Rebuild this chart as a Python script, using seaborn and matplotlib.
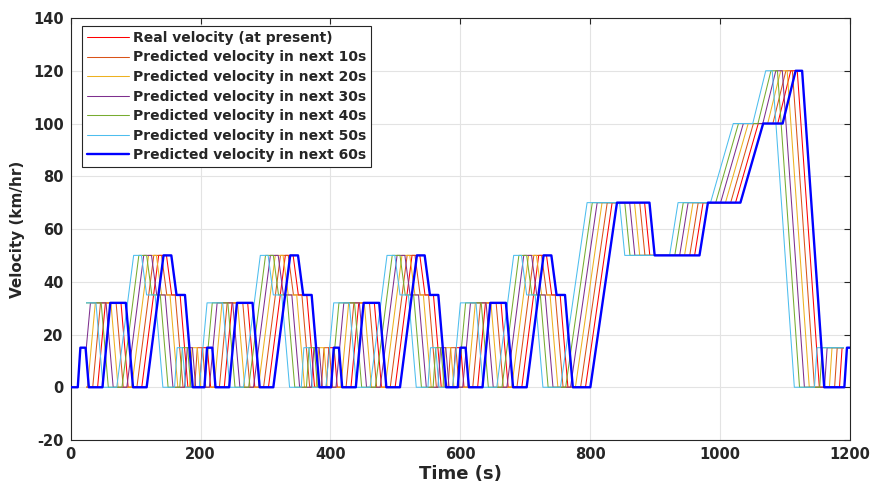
import numpy as np
import pandas as pd
import matplotlib
matplotlib.use("Agg")
import matplotlib.pyplot as plt
from matplotlib.patches import Rectangle
import seaborn as sns

# ---- data ----
# breakpoints of the (thick blue) reference velocity profile
cycle_time = [0, 11, 15, 23, 28, 49, 61, 85, 96, 117, 143, 155, 163, 176, 188,
              195, 206, 210, 218, 223, 244, 256, 280, 291, 312, 338, 350, 358, 371, 383,
              390, 401, 405, 413, 418, 439, 451, 475, 486, 507, 533, 545, 553, 566, 578,
              585, 596, 600, 608, 613, 634, 646, 670, 681, 702, 728, 740, 748, 761, 773,
              780, 800, 841, 891, 899, 968, 981, 1031, 1066, 1096, 1116, 1126, 1160,
              1180, 1191, 1195, 1260]
cycle_speed = [0, 0, 15, 15, 0, 0, 32, 32, 0, 0, 50, 50, 35, 35, 0,
               0, 0, 15, 15, 0, 0, 32, 32, 0, 0, 50, 50, 35, 35, 0,
               0, 0, 15, 15, 0, 0, 32, 32, 0, 0, 50, 50, 35, 35, 0,
               0, 0, 15, 15, 0, 0, 32, 32, 0, 0, 50, 50, 35, 35, 0,
               0, 0, 70, 70, 50, 50, 70, 70, 100, 100, 120, 120, 0,
               0, 0, 15, 15]

series_labels = ["Real velocity (at present)",
                 "Predicted velocity in next 10s",
                 "Predicted velocity in next 20s",
                 "Predicted velocity in next 30s",
                 "Predicted velocity in next 40s",
                 "Predicted velocity in next 50s",
                 "Predicted velocity in next 60s"]
# how far (s) each curve leads the blue profile
series_lead = [7.5, 15, 23, 30.5, 38, 46, 0]
series_colors = ["#FF0000", "#D95319", "#EDB120", "#7E2F8E", "#77AC30", "#4DBEEE", "#0000FF"]
visible_span = (24, 1190)   # thin curves are shown only in this time window

x_ticks = [0, 200, 400, 600, 800, 1000, 1200]
y_ticks = [-20, 0, 20, 40, 60, 80, 100, 120, 140]

# ---- build long-form table ----
rows = []
for lab, lead in zip(series_labels, series_lead):
    for t, v in zip(cycle_time, cycle_speed):
        rows.append((lab, t - lead, v))
df = pd.DataFrame(rows, columns=["series", "time", "speed"])

# ---- figure ----
sns.set_style("white")
plt.rcParams["font.family"] = ["DejaVu Sans"]
plt.rcParams["font.weight"] = "bold"
plt.rcParams["axes.unicode_minus"] = False

fig = plt.figure(figsize=(8.72, 4.87), dpi=100)
ax = fig.add_axes([0.081, 0.0965, 0.894, 0.8665])

for i, (lab, col) in enumerate(zip(series_labels, series_colors)):
    sub = df[df["series"] == lab]
    is_main = (i == len(series_labels) - 1)
    sns.lineplot(data=sub, x="time", y="speed", color=col,
                 linewidth=1.7 if is_main else 0.75, label=lab,
                 estimator=None, sort=False, ax=ax, zorder=3 if is_main else 2)
    if not is_main:
        line = ax.get_lines()[-1]
        clip = Rectangle((visible_span[0], -1000), visible_span[1] - visible_span[0], 3000,
                         transform=ax.transData, facecolor="none", edgecolor="none")
        line.set_clip_path(clip)

ax.set_xlim(0, 1200)
ax.set_ylim(-20, 140)
ax.set_xticks(x_ticks)
ax.set_yticks(y_ticks)
ax.grid(True, color="#e3e3e3", linewidth=0.8, zorder=0)
ax.set_axisbelow(True)

for sp in ax.spines.values():
    sp.set_color("#262626")
    sp.set_linewidth(0.8)
    sp.set_visible(True)
ax.tick_params(direction="in", length=4, width=0.8, colors="#262626",
               top=True, right=True, labelsize=10.5, pad=5)
for lbl in ax.get_xticklabels() + ax.get_yticklabels():
    lbl.set_fontweight("bold")
    lbl.set_color("#262626")

ax.set_xlabel("Time (s)", fontsize=13, fontweight="bold", color="#262626", labelpad=2)
ax.set_ylabel("Velocity (km/hr)", fontsize=11, fontweight="bold", color="#262626", labelpad=6)

leg = ax.legend(loc="upper left", bbox_to_anchor=(0.0148, 0.981), borderaxespad=0,
                fontsize=10, frameon=True, fancybox=False, framealpha=1,
                edgecolor="#262626", labelspacing=0.4, borderpad=0.35,
                handlelength=3.0, handletextpad=0.3)
leg.get_frame().set_linewidth(0.8)
for txt in leg.get_texts():
    txt.set_fontweight("bold")

fig.savefig("out.png", dpi=100)
